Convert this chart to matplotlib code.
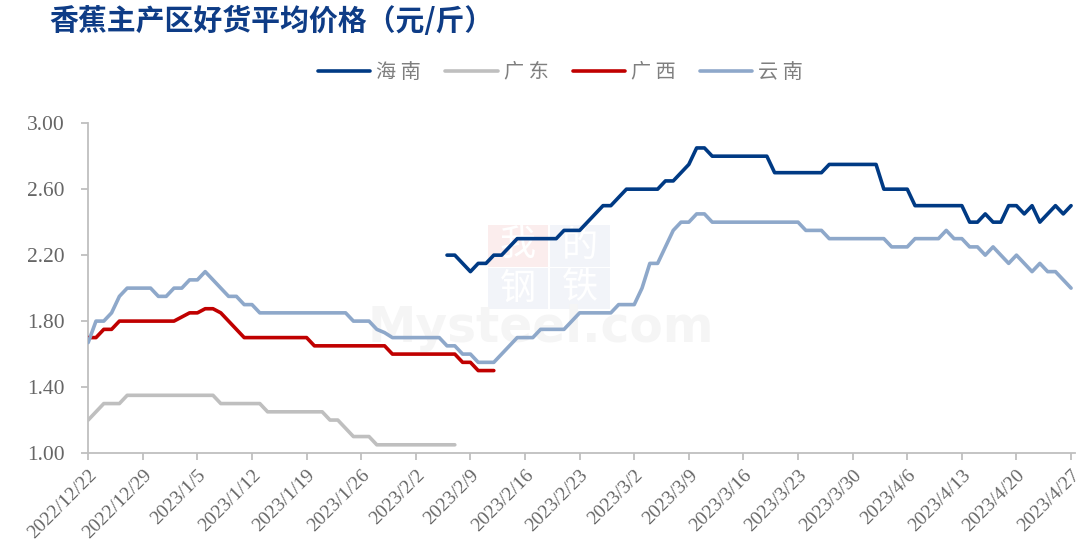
import numpy as np
import pandas as pd
import matplotlib
matplotlib.use('Agg')
import matplotlib.pyplot as plt
from matplotlib.patches import Rectangle

plt.rcParams['font.family'] = ['Noto Sans CJK SC', 'DejaVu Sans']

nan = np.nan
dates = pd.date_range('2022-12-22', '2023-04-27', freq='D')

# one row per week, starting on Thursday
hainan = [
    nan, nan, nan, nan, nan, nan, nan,
    nan, nan, nan, nan, nan, nan, nan,
    nan, nan, nan, nan, nan, nan, nan,
    nan, nan, nan, nan, nan, nan, nan,
    nan, nan, nan, nan, nan, nan, nan,
    nan, nan, nan, nan, nan, nan, nan,
    nan, nan, nan, nan, 2.20, 2.20, 2.15,
    2.10, 2.15, 2.15, 2.20, 2.20, 2.25, 2.30,
    2.30, 2.30, 2.30, 2.30, 2.30, 2.35, 2.35,
    2.35, 2.40, 2.45, 2.50, 2.50, 2.55, 2.60,
    2.60, 2.60, 2.60, 2.60, 2.65, 2.65, 2.70,
    2.75, 2.85, 2.85, 2.80, 2.80, 2.80, 2.80,
    2.80, 2.80, 2.80, 2.80, 2.70, 2.70, 2.70,
    2.70, 2.70, 2.70, 2.70, 2.75, 2.75, 2.75,
    2.75, 2.75, 2.75, 2.75, 2.60, 2.60, 2.60,
    2.60, 2.50, 2.50, 2.50, 2.50, 2.50, 2.50,
    2.50, 2.40, 2.40, 2.45, 2.40, 2.40, 2.50,
    2.50, 2.45, 2.50, 2.40, 2.45, 2.50, 2.45,
    2.50,
]

guangdong = [
    1.20, 1.25, 1.30, 1.30, 1.30, 1.35, 1.35,
    1.35, 1.35, 1.35, 1.35, 1.35, 1.35, 1.35,
    1.35, 1.35, 1.35, 1.30, 1.30, 1.30, 1.30,
    1.30, 1.30, 1.25, 1.25, 1.25, 1.25, 1.25,
    1.25, 1.25, 1.25, 1.20, 1.20, 1.15, 1.10,
    1.10, 1.10, 1.05, 1.05, 1.05, 1.05, 1.05,
    1.05, 1.05, 1.05, 1.05, 1.05, 1.05, nan,
] + [nan] * 78

guangxi = [
    1.70, 1.70, 1.75, 1.75, 1.80, 1.80, 1.80,
    1.80, 1.80, 1.80, 1.80, 1.80, 1.825, 1.85,
    1.85, 1.875, 1.875, 1.85, 1.80, 1.75, 1.70,
    1.70, 1.70, 1.70, 1.70, 1.70, 1.70, 1.70,
    1.70, 1.65, 1.65, 1.65, 1.65, 1.65, 1.65,
    1.65, 1.65, 1.65, 1.65, 1.60, 1.60, 1.60,
    1.60, 1.60, 1.60, 1.60, 1.60, 1.60, 1.55,
    1.55, 1.50, 1.50, 1.50, nan, nan, nan,
] + [nan] * 71

yunnan = [
    1.67, 1.80, 1.80, 1.85, 1.95, 2.00, 2.00,
    2.00, 2.00, 1.95, 1.95, 2.00, 2.00, 2.05,
    2.05, 2.10, 2.05, 2.00, 1.95, 1.95, 1.90,
    1.90, 1.85, 1.85, 1.85, 1.85, 1.85, 1.85,
    1.85, 1.85, 1.85, 1.85, 1.85, 1.85, 1.80,
    1.80, 1.80, 1.75, 1.73, 1.70, 1.70, 1.70,
    1.70, 1.70, 1.70, 1.70, 1.65, 1.65, 1.60,
    1.60, 1.55, 1.55, 1.55, 1.60, 1.65, 1.70,
    1.70, 1.70, 1.75, 1.75, 1.75, 1.75, 1.80,
    1.85, 1.85, 1.85, 1.85, 1.85, 1.90, 1.90,
    1.90, 2.00, 2.15, 2.15, 2.25, 2.35, 2.40,
    2.40, 2.45, 2.45, 2.40, 2.40, 2.40, 2.40,
    2.40, 2.40, 2.40, 2.40, 2.40, 2.40, 2.40,
    2.40, 2.35, 2.35, 2.35, 2.30, 2.30, 2.30,
    2.30, 2.30, 2.30, 2.30, 2.30, 2.25, 2.25,
    2.25, 2.30, 2.30, 2.30, 2.30, 2.35, 2.30,
    2.30, 2.25, 2.25, 2.20, 2.25, 2.20, 2.15,
    2.20, 2.15, 2.10, 2.15, 2.10, 2.10, 2.05,
    2.00,
]

names = ['海南', '广东', '广西', '云南']
colors = ['#003A84', '#BFBFBF', '#C00000', '#8EA8CA']
yticks = [1.00, 1.40, 1.80, 2.20, 2.60, 3.00]

fig = plt.figure(figsize=(10.82, 5.6), dpi=100)
ax = fig.add_axes([0.0815, 0.191, 0.912, 0.589])

for name, vals, c in zip(names, [hainan, guangdong, guangxi, yunnan], colors):
    ax.plot(dates, vals, color=c, lw=2.6, label=' '.join(name),
            solid_capstyle='round', solid_joinstyle='round', zorder=3)

# faint watermark (logo blocks + text)
wm = [('我', 0.405, 0.565, '#FBEDED'), ('的', 0.468, 0.565, '#F2F4F9'),
      ('钢', 0.405, 0.436, '#F2F4F9'), ('铁', 0.468, 0.436, '#F2F4F9')]
for ch, x0, y0, bg in wm:
    ax.add_patch(Rectangle((x0, y0), 0.061, 0.126, transform=ax.transAxes,
                           facecolor=bg, edgecolor='none', zorder=1))
    ax.text(x0 + 0.0305, y0 + 0.063, ch, transform=ax.transAxes, fontsize=26,
            color='white', ha='center', va='center', zorder=1.5)
ax.text(0.459, 0.38, 'Mysteel.com', transform=ax.transAxes, fontsize=35,
        color='#F5F5F5', fontweight='bold', ha='center', va='center',
        family='DejaVu Sans', zorder=1)

ax.set_ylim(1.0, 3.0)
ax.set_yticks(yticks)
ax.set_yticklabels([f'{v:.2f}' for v in yticks])

xt = dates[::7]
ax.set_xlim(dates[0], dates[-1] + pd.Timedelta(hours=12))
ax.set_xticks(xt)
ax.set_xticklabels([f'{d.year}/{d.month}/{d.day}' for d in xt],
                   rotation=45, ha='right', rotation_mode='anchor')

for s in ['top', 'right']:
    ax.spines[s].set_visible(False)
for s in ['left', 'bottom']:
    ax.spines[s].set_color('#BFBFBF')
    ax.spines[s].set_linewidth(1.3)

ax.tick_params(axis='both', color='#BFBFBF', width=1.3, length=5)
ax.tick_params(axis='y', pad=12, labelsize=15.5, labelcolor='#666666')
ax.tick_params(axis='x', pad=5, labelsize=14, labelcolor='#666666')
for lab in ax.get_xticklabels() + ax.get_yticklabels():
    lab.set_family('Liberation Serif')

fig.text(0.046, 0.962, '香蕉主产区好货平均价格（元/斤）', fontsize=20.8,
         fontweight='bold', color='#0E3C86', ha='left', va='center')

fig.legend(loc='center', bbox_to_anchor=(0.518, 0.871), ncol=4, frameon=False,
           fontsize=14.5, handlelength=2.6, handletextpad=0.3,
           columnspacing=1.2, labelcolor='#7F7F7F')

fig.savefig('out.png', dpi=100)
